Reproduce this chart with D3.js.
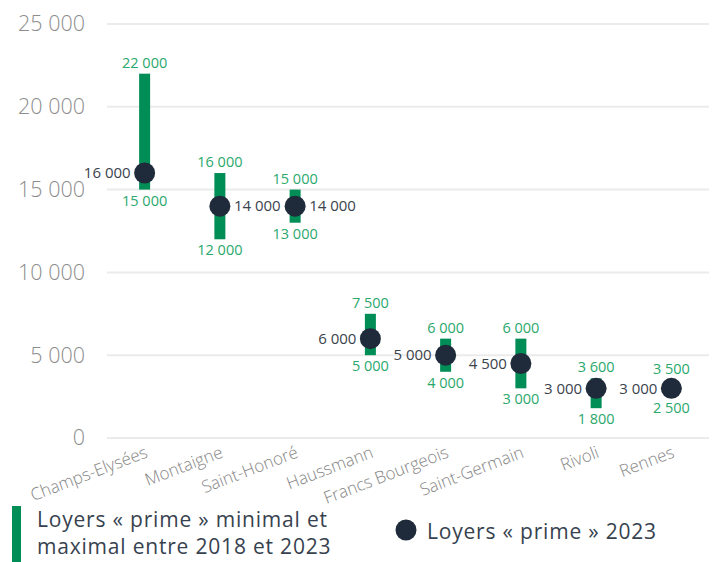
<!DOCTYPE html>
<html>
<head>
<meta charset="utf-8">
<script src="https://cdn.jsdelivr.net/npm/d3@7"></script>
<style>
    body { margin: 0; background: #fff; }
    text { font-family: "Open Sans", sans-serif; }
</style>
</head>
<body>
<div id="chart"></div>
<script>
// Loyers "prime" par rue
const streets = ["Champs-Elysées", "Montaigne", "Saint-Honoré", "Haussmann", "Francs Bourgeois", "Saint-Germain", "Rivoli", "Rennes"];
const minRent = [15000, 12000, 13000, 5000, 4000, 3000, 1800, 2500];
const maxRent = [22000, 16000, 15000, 7500, 6000, 6000, 3600, 3500];
const rent2023 = [16000, 14000, 14000, 6000, 5000, 4500, 3000, 3000];
const yTicks = [0, 5000, 10000, 15000, 20000, 25000];
const legendRange = ["Loyers « prime » minimal et", "maximal entre 2018 et 2023"];
const legendDot = "Loyers « prime » 2023";
// side of the 2023 label (-1 left, 1 right)
const labelSide = [-1, 1, 1, -1, -1, -1, -1, -1];

const width = 716, height = 562;
const margin = { top: 24, right: 7, bottom: 124, left: 107 };

const fr = d3.formatLocale({ decimal: ",", thousands: " ", grouping: [3], currency: ["", " €"] });
const fmt = fr.format(",");

const svg = d3.select("#chart").append("svg")
    .attr("width", width)
    .attr("height", height);

const x = d3.scaleBand()
    .domain(streets)
    .range([margin.left, width - margin.right]);

const y = d3.scaleLinear()
    .domain([0, 25000])
    .range([height - margin.bottom, margin.top]);

// Gridlines
svg.append("g")
    .selectAll("line")
    .data(yTicks)
    .enter().append("line")
    .attr("x1", margin.left)
    .attr("x2", width - margin.right)
    .attr("y1", d => y(d))
    .attr("y2", d => y(d))
    .style("stroke", "#ebebeb")
    .style("stroke-width", 2);

// Y-axis labels
const yAxis = svg.append("g")
    .attr("transform", `translate(${margin.left - 22},0)`)
    .call(d3.axisLeft(y).tickValues(yTicks).tickFormat(fmt).tickSize(0).tickPadding(0));
yAxis.select(".domain").remove();
yAxis.selectAll("text")
    .style("font-family", "'Open Sans', sans-serif")
    .style("font-size", "21.5px")
    .style("font-weight", 300)
    .style("fill", "#8c8c8c");

// X-axis labels
const xAxis = svg.append("g")
    .attr("transform", `translate(0,${y(0)})`)
    .call(d3.axisBottom(x).tickSize(0).tickPadding(0));
xAxis.select(".domain").remove();
xAxis.selectAll("text")
    .attr("x", -3)
    .attr("y", 19)
    .attr("dy", 0)
    .style("text-anchor", "end")
    .attr("transform", "rotate(-21)")
    .style("font-family", "'Open Sans', sans-serif")
    .style("font-size", "17px")
    .style("font-weight", 300)
    .style("fill", "#858585");

const cx = (d, i) => x(streets[i]) + x.bandwidth() / 2;

// Min / max bars
svg.selectAll(".range")
    .data(streets)
    .enter().append("rect")
    .attr("class", "range")
    .attr("x", (d, i) => cx(d, i) - 5.5)
    .attr("width", 11)
    .attr("y", (d, i) => y(maxRent[i]))
    .attr("height", (d, i) => y(minRent[i]) - y(maxRent[i]))
    .style("fill", "#008d56");

// Max labels
svg.selectAll(".max-text")
    .data(streets)
    .enter().append("text")
    .attr("x", cx)
    .attr("y", (d, i) => y(maxRent[i]) - 6)
    .attr("text-anchor", "middle")
    .style("font-size", "14.5px")
    .style("fill", "#2aa86c")
    .text((d, i) => fmt(maxRent[i]));

// Min labels
svg.selectAll(".min-text")
    .data(streets)
    .enter().append("text")
    .attr("x", cx)
    .attr("y", (d, i) => y(minRent[i]) + 16)
    .attr("text-anchor", "middle")
    .style("font-size", "14.5px")
    .style("fill", "#2aa86c")
    .text((d, i) => fmt(minRent[i]));

// 2023 dots
svg.selectAll(".dot")
    .data(streets)
    .enter().append("circle")
    .attr("cx", cx)
    .attr("cy", (d, i) => y(rent2023[i]))
    .attr("r", 10.5)
    .style("fill", "#1f2b3a");

svg.selectAll(".dot-text")
    .data(streets)
    .enter().append("text")
    .attr("x", (d, i) => cx(d, i) + labelSide[i] * 14)
    .attr("y", (d, i) => y(rent2023[i]))
    .attr("dy", "0.35em")
    .attr("text-anchor", (d, i) => labelSide[i] < 0 ? "end" : "start")
    .style("font-size", "15px")
    .style("fill", "#3a434d")
    .text((d, i) => fmt(rent2023[i]));

// Legend
const legend = svg.append("g");
legend.append("rect")
    .attr("x", 12).attr("y", 506)
    .attr("width", 9).attr("height", 56)
    .style("fill", "#008d56");
legend.selectAll(".leg-range")
    .data(legendRange)
    .enter().append("text")
    .attr("x", 37)
    .attr("y", (d, i) => 527 + i * 27)
    .style("font-size", "21px")
    .style("letter-spacing", "0.8px")
    .style("fill", "#37424f")
    .text(d => d);
legend.append("circle")
    .attr("cx", 406).attr("cy", 530).attr("r", 10.5)
    .style("fill", "#1f2b3a");
legend.append("text")
    .attr("x", 427).attr("y", 539)
    .style("font-size", "21px")
    .style("letter-spacing", "0.8px")
    .style("fill", "#37424f")
    .text(legendDot);
</script>
</body>
</html>
